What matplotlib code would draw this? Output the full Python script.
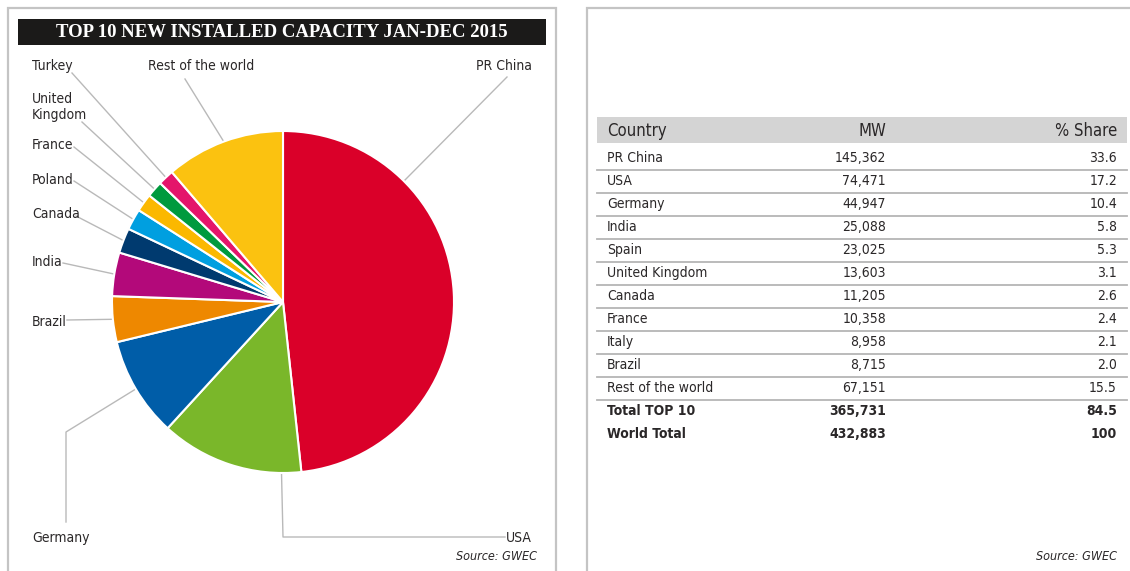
import numpy as np
import matplotlib.pyplot as plt
from matplotlib import font_manager
from matplotlib.patches import Rectangle

# new installations 2015 (MW), clockwise from 12 o'clock
pie_countries = ['PR China', 'USA', 'Germany', 'Brazil', 'India', 'Canada',
                 'Poland', 'France', 'United Kingdom', 'Turkey', 'Rest of the world']
pie_labels = ['PR China', 'USA', 'Germany', 'Brazil', 'India', 'Canada',
              'Poland', 'France', 'United\nKingdom', 'Turkey', 'Rest of the world']
pie_mw = [30753, 8598, 6013, 2754, 2623, 1506, 1266, 1073, 975, 956, 7173]
pie_colors = ['#da0029', '#7ab72a', '#005da8', '#ee8800', '#b3097a', '#003a6f',
              '#009fe0', '#fbb800', '#009a3e', '#e4156b', '#fbc210']

# cumulative capacity table
table_country = ['PR China', 'USA', 'Germany', 'India', 'Spain', 'United Kingdom',
                 'Canada', 'France', 'Italy', 'Brazil', 'Rest of the world',
                 'Total TOP 10', 'World Total']
table_mw = ['145,362', '74,471', '44,947', '25,088', '23,025', '13,603', '11,205',
            '10,358', '8,958', '8,715', '67,151', '365,731', '432,883']
table_share = ['33.6', '17.2', '10.4', '5.8', '5.3', '3.1', '2.6', '2.4', '2.1',
               '2.0', '15.5', '84.5', '100']
bold_rows = ['Total TOP 10', 'World Total']

# a condensed face if the system has one, otherwise a narrow-ish sans
condensed = [f for f in font_manager.fontManager.ttflist
             if f.name == 'DejaVu Sans' and f.stretch == 'condensed']
if condensed:
    FONT = dict(family='DejaVu Sans', fontstretch='condensed')
else:
    FONT = dict(family='Liberation Sans')

TXT = '#2a2728'
LINE = '#b9b9b9'

W, H = 1130, 571
fig = plt.figure(figsize=(W / 100, H / 100), dpi=100)

# overlay axes in pixel coordinates (y down)
ax = fig.add_axes([0, 0, 1, 1])
ax.set_xlim(0, W)
ax.set_ylim(H, 0)
ax.axis('off')

# panel frames
ax.plot([8, 8, 556, 556], [H, 8, 8, H], color='#c4c4c4', lw=1.6, solid_joinstyle='miter')
ax.plot([587, 587, W], [H, 8, 8], color='#c4c4c4', lw=1.6, solid_joinstyle='miter')

# title bar
ax.add_patch(Rectangle((18, 19), 528, 26, color='#1b1a19', lw=0))
ax.text(282, 32.5, 'TOP 10 NEW INSTALLED CAPACITY JAN-DEC 2015', color='white',
        fontsize=13.5, fontweight='bold', family='Liberation Serif',
        ha='center', va='center')

# pie
cx, cy, r = 283, 302, 171
pax = fig.add_axes([(cx - r) / W, 1 - (cy + r) / H, 2 * r / W, 2 * r / H])
wedges, _ = pax.pie(pie_mw, colors=pie_colors, startangle=90, counterclock=False,
                    wedgeprops=dict(edgecolor='white', linewidth=1.5))
pax.set_xlim(-1, 1)
pax.set_ylim(-1, 1)

# label placement: text position, alignment, leader points from the text side
label_layout = {
    'PR China': (532, 66, 'right', [(507, 77)]),
    'USA': (532, 538, 'right', [(505, 537), (283, 537)]),
    'Germany': (32, 538, 'left', [(66, 522), (66, 432)]),
    'Brazil': (32, 322, 'left', [(67, 320)]),
    'India': (32, 262, 'left', [(63, 263)]),
    'Canada': (32, 214, 'left', [(76, 216)]),
    'Poland': (32, 180, 'left', [(74, 181)]),
    'France': (32, 145, 'left', [(74, 147)]),
    'United Kingdom': (32, 107, 'left', [(82, 122)]),
    'Turkey': (32, 66, 'left', [(72, 73)]),
    'Rest of the world': (148, 66, 'left', [(185, 79)]),
}
anchor_angle = {'PR China': 45, 'USA': -90.5}

for name, label, w in zip(pie_countries, pie_labels, wedges):
    tx, ty, ha, pts = label_layout[name]
    ang = anchor_angle.get(name, (w.theta1 + w.theta2) / 2)
    ex = cx + r * np.cos(np.radians(ang))
    ey = cy - r * np.sin(np.radians(ang))
    xs = [p[0] for p in pts] + [ex]
    ys = [p[1] for p in pts] + [ey]
    ax.plot(xs, ys, color=LINE, lw=1.0)
    ax.text(tx, ty, label, ha=ha, va='center', fontsize=10, color=TXT,
            linespacing=1.25, **FONT)

ax.text(537, 557, 'Source: GWEC', ha='right', va='center', fontsize=9,
        style='italic', color=TXT, **FONT)

# table
ax.add_patch(Rectangle((597, 117), 530, 26, color='#d4d4d4', lw=0))
for s, x, ha in [('Country', 607, 'left'), ('MW', 886, 'right'), ('% Share', 1117, 'right')]:
    ax.text(x, 130.5, s, ha=ha, va='center', fontsize=12, color=TXT, **FONT)

for i, (c, mw, sh) in enumerate(zip(table_country, table_mw, table_share)):
    y = 158 + 23 * i
    fw = 'bold' if c in bold_rows else 'normal'
    for s, x, ha in [(c, 607, 'left'), (mw, 886, 'right'), (sh, 1117, 'right')]:
        ax.text(x, y, s, ha=ha, va='center', fontsize=10, color=TXT,
                fontweight=fw, **FONT)
    if c not in bold_rows:
        ax.plot([597, 1127], [y + 11.5, y + 11.5], color='#b5b5b5', lw=1.3)

ax.text(1117, 557, 'Source: GWEC', ha='right', va='center', fontsize=9,
        style='italic', color=TXT, **FONT)

fig.savefig('out.png', dpi=100)
